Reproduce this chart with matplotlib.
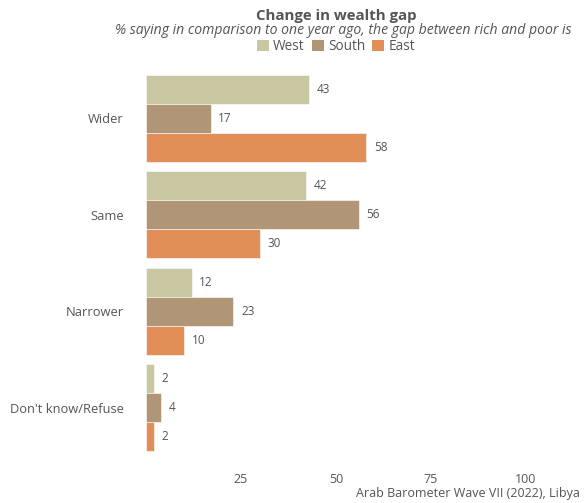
import matplotlib
matplotlib.use('Agg')
import matplotlib.pyplot as plt
import numpy as np
from matplotlib.patches import Patch

categories = ['Wider', 'Same', 'Narrower', "Don't know/Refuse"]
west = [43, 42, 12, 2]
south = [17, 56, 23, 4]
east = [58, 30, 10, 2]
series = ['West', 'South', 'East']
colors = ['#c9c6a2', '#b09676', '#e18f57']
xticks = [25, 50, 75, 100]

plt.rcParams['font.family'] = ['Open Sans', 'DejaVu Sans']
TXT = '#555555'

fig = plt.figure(figsize=(5.87, 5.03), dpi=100, facecolor='white')
W, H = 587, 503
ax = fig.add_axes([146/W, 1-462/H, (526-146)/W, (462-67)/H])

y = np.arange(len(categories))
bh = 0.3
for i, (vals, col) in enumerate(zip([west, south, east], colors)):
    pos = y + (i-1)*bh
    ax.barh(pos, vals, height=bh, color=col, edgecolor='white', lw=0.4)
    for p, v in zip(pos, vals):
        ax.text(v+2, p, str(v), va='center', ha='left', fontsize=8.5, color=TXT)

ax.set_xlim(0, 100)
ax.set_ylim(3.56, -0.53)
ax.set_yticks(y)
ax.set_yticklabels(categories, fontsize=9.3, color=TXT)
ax.set_xticks(xticks)
ax.set_xticklabels([str(t) for t in xticks], fontsize=9, color=TXT)
ax.tick_params(length=0)
ax.tick_params(axis='y', pad=16)
ax.tick_params(axis='x', pad=8)
for s in ax.spines.values():
    s.set_visible(False)

cx = 336/W
fig.text(cx, 1-20/H, 'Change in wealth gap', ha='center', va='baseline',
         fontsize=10.8, weight='bold', color=TXT)
fig.text(343/W, 1-22.5/H, '% saying in comparison to one year ago, the gap between rich and poor is',
         ha='center', va='top', fontsize=10.1, style='italic', color=TXT)
handles = [Patch(fc=c, ec='none') for c in colors]
fig.legend(handles, series, loc='center', bbox_to_anchor=(cx, 1-46.5/H), ncol=3,
           frameon=False, fontsize=9.8, handlelength=0.9, handleheight=0.9,
           handletextpad=0.3, columnspacing=0.5, labelcolor=TXT)
fig.text(580/W, 1-494/H, 'Arab Barometer Wave VII (2022), Libya', ha='right', va='center',
         fontsize=9, color=TXT)

fig.savefig('out.png', dpi=100, facecolor='white')
